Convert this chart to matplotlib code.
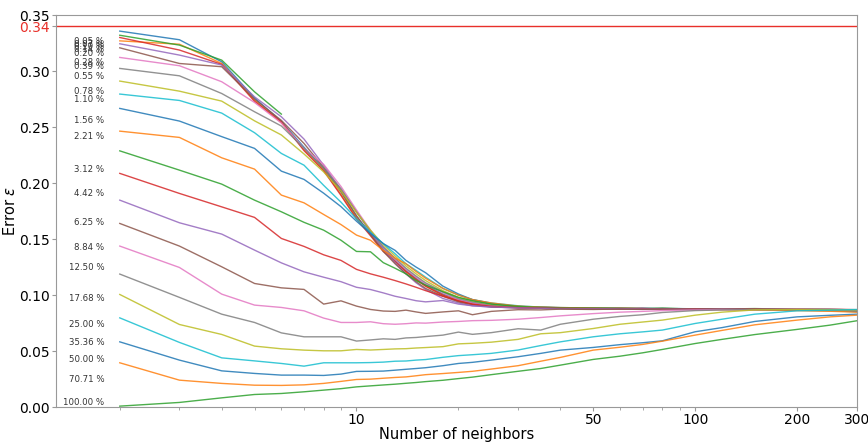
import matplotlib
matplotlib.use("Agg")
import matplotlib.pyplot as plt
from matplotlib.ticker import FixedLocator, NullFormatter, FixedFormatter

neighbors = [2, 3, 4, 5, 6, 7, 8, 9, 10, 11, 12, 13, 14, 15, 16, 18, 20, 22, 25, 30,
             35, 40, 50, 60, 70, 80, 100, 120, 150, 200, 250, 300]

percent_labels = ["0.05 %", "0.07 %", "0.10 %", "0.14 %", "0.20 %", "0.28 %", "0.39 %",
                  "0.55 %", "0.78 %", "1.10 %", "1.56 %", "2.21 %", "3.12 %", "4.42 %",
                  "6.25 %", "8.84 %", "12.50 %", "17.68 %", "25.00 %", "35.36 %",
                  "50.00 %", "70.71 %", "100.00 %"]
label_y = [0.3267, 0.3240, 0.3220, 0.3190, 0.3160, 0.3080, 0.3045, 0.2955, 0.2820,
           0.2750, 0.2560, 0.2415, 0.2125, 0.1910, 0.1650, 0.1429, 0.1250, 0.0973,
           0.0741, 0.0580, 0.0429, 0.0250, 0.0045]

err_005 = [0.3357, 0.328, 0.3083, 0.276, 0.255, 0.232, 0.213, 0.192, 0.170, 0.155, 0.141, 0.131,
           0.122, 0.115, 0.109, 0.101, 0.096, 0.093, 0.0905, 0.0893, 0.0888, 0.0886, 0.0884,
           0.0880, 0.0883, 0.0878, 0.0876, 0.0879, 0.0872, 0.0868, 0.0870, 0.0862]
err_007 = [0.327, 0.324, 0.3068, 0.274, 0.254, 0.230, 0.212, 0.190, 0.169, 0.154, 0.140, 0.130,
           0.121, 0.114, 0.108, 0.100, 0.095, 0.092, 0.0900, 0.0895, 0.0890, 0.0886, 0.0882,
           0.0885, 0.0879, 0.0881, 0.0877, 0.0874, 0.0876, 0.0870, 0.0866, 0.0868]
err_010 = [0.332, 0.3232, 0.3098, 0.2815, 0.2616]
err_014 = [0.330, 0.3188, 0.306, 0.273, 0.2548, 0.229, 0.211, 0.189, 0.168, 0.153, 0.139, 0.130,
           0.121, 0.114, 0.108, 0.100, 0.0945, 0.0918, 0.0898, 0.0890, 0.0887, 0.0884, 0.0880,
           0.0883, 0.0877, 0.0880, 0.0875, 0.0877, 0.0873, 0.0871, 0.0868, 0.0866]
err_020 = [0.3244, 0.3143, 0.3054, 0.277, 0.2592, 0.2393, 0.216, 0.194, 0.175, 0.156, 0.141, 0.129,
           0.119, 0.111, 0.105, 0.097, 0.093, 0.0905, 0.0893, 0.0887, 0.0884, 0.0881, 0.0879,
           0.0876, 0.0878, 0.0874, 0.0872, 0.0874, 0.0870, 0.0868, 0.0865, 0.0863]
err_028 = [0.3208, 0.3068, 0.3039, 0.275, 0.256, 0.2354, 0.214, 0.193, 0.171, 0.154, 0.139, 0.128,
           0.119, 0.112, 0.106, 0.099, 0.094, 0.0915, 0.0895, 0.0886, 0.0882, 0.0880, 0.0877,
           0.0879, 0.0875, 0.0877, 0.0873, 0.0871, 0.0874, 0.0869, 0.0867, 0.0864]
err_039 = [0.3122, 0.3048, 0.2905, 0.272, 0.2536, 0.231, 0.2167, 0.197, 0.176, 0.158, 0.143, 0.132,
           0.123, 0.116, 0.110, 0.102, 0.096, 0.093, 0.0905, 0.0892, 0.0888, 0.0885, 0.0881,
           0.0878, 0.0880, 0.0876, 0.0874, 0.0876, 0.0872, 0.0870, 0.0868, 0.0866]
err_055 = [0.3024, 0.2958, 0.280, 0.2637, 0.251, 0.231, 0.213, 0.195, 0.174, 0.157, 0.143, 0.133,
           0.124, 0.117, 0.111, 0.103, 0.097, 0.094, 0.0912, 0.0896, 0.0890, 0.0886, 0.0883,
           0.0880, 0.0882, 0.0878, 0.0876, 0.0878, 0.0874, 0.0872, 0.0869, 0.0867]
err_078 = [0.2911, 0.2821, 0.2732, 0.2556, 0.243, 0.226, 0.210, 0.193, 0.174, 0.158, 0.145, 0.135,
           0.126, 0.119, 0.113, 0.104, 0.098, 0.095, 0.0918, 0.0898, 0.0891, 0.0887, 0.0884,
           0.0881, 0.0879, 0.0881, 0.0877, 0.0875, 0.0877, 0.0872, 0.0870, 0.0868]
err_110 = [0.2795, 0.2738, 0.2625, 0.245, 0.2265, 0.216, 0.198, 0.183, 0.168, 0.156, 0.146, 0.137,
           0.128, 0.122, 0.116, 0.106, 0.100, 0.096, 0.093, 0.0905, 0.0893, 0.0889, 0.0885,
           0.0882, 0.0880, 0.0882, 0.0878, 0.0876, 0.0874, 0.0872, 0.0870, 0.0868]
err_156 = [0.2667, 0.2554, 0.2415, 0.231, 0.2107, 0.2033, 0.191, 0.179, 0.166, 0.155, 0.146, 0.140,
           0.131, 0.125, 0.120, 0.108, 0.101, 0.096, 0.0925, 0.0898, 0.0892, 0.0888, 0.0884,
           0.0881, 0.0878, 0.0880, 0.0876, 0.0874, 0.0870, 0.0865, 0.0860, 0.0852]
err_221 = [0.2464, 0.2408, 0.2226, 0.2125, 0.1893, 0.1824, 0.172, 0.163, 0.1536, 0.149, 0.140, 0.133,
           0.128, 0.121, 0.115, 0.106, 0.100, 0.096, 0.093, 0.0902, 0.0893, 0.0889, 0.0885,
           0.0882, 0.0879, 0.0876, 0.0874, 0.0871, 0.0868, 0.0862, 0.0856, 0.0848]
err_312 = [0.2288, 0.2116, 0.1991, 0.1848, 0.1744, 0.165, 0.158, 0.149, 0.139, 0.1387, 0.129, 0.124,
           0.119, 0.113, 0.109, 0.103, 0.098, 0.095, 0.092, 0.0900, 0.0890, 0.0887, 0.0884,
           0.0881, 0.0879, 0.0882, 0.0877, 0.0876, 0.0880, 0.0873, 0.0870, 0.0869]
err_442 = [0.2087, 0.1908, 0.1788, 0.1694, 0.1506, 0.1435, 0.136, 0.131, 0.123, 0.119, 0.116, 0.113,
           0.110, 0.107, 0.104, 0.099, 0.095, 0.092, 0.090, 0.0888, 0.0885, 0.0882, 0.0880,
           0.0878, 0.0881, 0.0876, 0.0879, 0.0875, 0.0877, 0.0872, 0.0874, 0.0870]
err_625 = [0.1848, 0.1646, 0.1545, 0.1402, 0.1288, 0.1208, 0.116, 0.112, 0.107, 0.105, 0.102, 0.099,
           0.097, 0.095, 0.094, 0.0952, 0.092, 0.0905, 0.0895, 0.0886, 0.0883, 0.0880, 0.0878,
           0.0880, 0.0876, 0.0878, 0.0874, 0.0876, 0.0872, 0.0875, 0.0871, 0.0869]
err_884 = [0.1640, 0.1438, 0.1253, 0.1104, 0.1065, 0.1051, 0.092, 0.0949, 0.0902, 0.0872, 0.0858, 0.0855,
           0.0866, 0.0850, 0.0837, 0.0850, 0.0860, 0.0825, 0.0855, 0.0870, 0.0868, 0.0875, 0.0872,
           0.0876, 0.0873, 0.0877, 0.0874, 0.0876, 0.0873, 0.0875, 0.0872, 0.0870]
err_1250 = [0.1438, 0.1247, 0.1009, 0.0911, 0.0890, 0.0860, 0.0795, 0.0756, 0.0756, 0.0762, 0.0745,
            0.0740, 0.0745, 0.0752, 0.0750, 0.0760, 0.0765, 0.0772, 0.0775, 0.0785, 0.0800, 0.0815,
            0.0835, 0.0848, 0.0855, 0.0862, 0.0868, 0.0872, 0.0870, 0.0874, 0.0871, 0.0869]
err_1768 = [0.1188, 0.0980, 0.0830, 0.0756, 0.0663, 0.0628, 0.0628, 0.0628, 0.0590, 0.0600, 0.0610,
            0.0605, 0.0618, 0.0622, 0.0630, 0.0643, 0.0670, 0.0650, 0.0665, 0.0700, 0.0688, 0.0740,
            0.0785, 0.0810, 0.0825, 0.0845, 0.0862, 0.0868, 0.0872, 0.0870, 0.0873, 0.0868]
err_2500 = [0.1006, 0.0738, 0.0649, 0.0545, 0.0521, 0.0509, 0.0503, 0.0503, 0.0515, 0.0510, 0.0515,
            0.0520, 0.0522, 0.0528, 0.0532, 0.0540, 0.0565, 0.0570, 0.0580, 0.0605, 0.0655, 0.0665,
            0.0702, 0.0740, 0.0760, 0.0777, 0.0821, 0.0848, 0.0868, 0.0872, 0.0870, 0.0868]
err_3536 = [0.0797, 0.0578, 0.0440, 0.0413, 0.0390, 0.0366, 0.0396, 0.0396, 0.0396, 0.0398, 0.0402,
            0.0410, 0.0412, 0.0420, 0.0425, 0.0445, 0.0460, 0.0468, 0.0480, 0.0510, 0.0550, 0.0583,
            0.0628, 0.0655, 0.0672, 0.0688, 0.0747, 0.0785, 0.0830, 0.0860, 0.0866, 0.0872]
err_5000 = [0.0583, 0.0420, 0.0324, 0.0301, 0.0286, 0.0286, 0.0283, 0.0295, 0.0319, 0.0320, 0.0322,
            0.0330, 0.0338, 0.0345, 0.0352, 0.0370, 0.0390, 0.0400, 0.0420, 0.0450, 0.0480, 0.0509,
            0.0533, 0.0558, 0.0575, 0.0592, 0.0673, 0.0710, 0.0765, 0.0806, 0.0820, 0.0830]
err_7071 = [0.0396, 0.0241, 0.0212, 0.0196, 0.0194, 0.0199, 0.0212, 0.0230, 0.0247, 0.0250, 0.0258,
            0.0265, 0.0270, 0.0280, 0.0290, 0.0300, 0.0310, 0.0320, 0.0340, 0.0370, 0.0410, 0.0444,
            0.0509, 0.0535, 0.0560, 0.0589, 0.0643, 0.0685, 0.0735, 0.0777, 0.0806, 0.0821]
err_10000 = [0.0009, 0.0042, 0.0083, 0.0113, 0.0122, 0.0137, 0.0152, 0.0165, 0.0181, 0.0190, 0.0198,
             0.0205, 0.0213, 0.0220, 0.0228, 0.0240, 0.0255, 0.0268, 0.0290, 0.0320, 0.0345, 0.0375,
             0.0426, 0.0455, 0.0485, 0.0515, 0.0568, 0.0605, 0.0648, 0.0694, 0.0732, 0.0771]

series = [err_005, err_007, err_010, err_014, err_020, err_028, err_039, err_055, err_078,
          err_110, err_156, err_221, err_312, err_442, err_625, err_884, err_1250, err_1768,
          err_2500, err_3536, err_5000, err_7071, err_10000]

threshold = 0.34
y_ticks = [0.00, 0.05, 0.10, 0.15, 0.20, 0.25, 0.30, 0.35]
x_ticks = [10, 50, 100, 200, 300]

fig = plt.figure(figsize=(8.68, 4.44), dpi=100)
ax = fig.add_axes([0.065, 0.083, 0.922, 0.883])

for vals in series:
    ax.plot(neighbors[:len(vals)], vals, lw=1.0, alpha=0.85)

for lab, yv in zip(percent_labels, label_y):
    ax.text(1.8, yv, lab, ha="right", va="center", fontsize=6.2, color="#333333")

ax.axhline(threshold, color="#e8302a", lw=1.0)

ax.set_xscale("log")
ax.set_xlim(1.3, 300)
ax.set_ylim(0, 0.35)
ax.xaxis.set_major_locator(FixedLocator(x_ticks))
ax.xaxis.set_major_formatter(FixedFormatter([str(t) for t in x_ticks]))
ax.xaxis.set_minor_formatter(NullFormatter())

ax.set_yticks(y_ticks + [threshold])
ylabels = ["%.2f" % t for t in y_ticks] + ["0.34"]
ax.set_yticklabels(ylabels)
for t in ax.get_yticklabels():
    if t.get_text() == "0.34":
        t.set_color("#e8302a")

ax.tick_params(axis="both", which="major", labelsize=10, color="#999999", length=3, pad=1.5)
ax.tick_params(axis="both", which="minor", color="#999999", length=2)
for sp in ax.spines.values():
    sp.set_color("#999999")

ax.set_xlabel("Number of neighbors", fontsize=10.5, labelpad=0)
ax.set_ylabel("Error $\\varepsilon$", fontsize=10.5, labelpad=1)

fig.savefig("out.png", dpi=100)
